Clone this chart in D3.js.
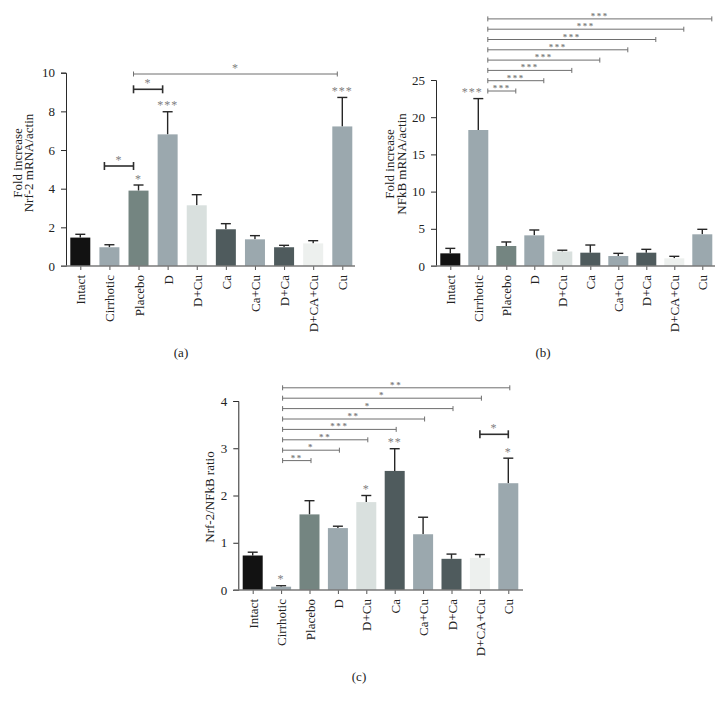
<!DOCTYPE html>
<html><head><meta charset="utf-8">
<script src="https://cdn.jsdelivr.net/npm/d3@7"></script>
<style>
body{margin:0;background:#fff;}
svg{display:block;font-family:"Liberation Serif","DejaVu Serif",serif;}
text{-webkit-font-smoothing:antialiased;}
</style></head>
<body><svg id="chart" width="725" height="703"></svg>
<script>
// ---------- DATA ----------
const categories = ["Intact","Cirrhotic","Placebo","D","D+Cu","Ca","Ca+Cu","D+Ca","D+CA+Cu","Cu"];
const barColors = ["#121212","#9ba8ae","#748581","#9ba8ae","#d9e0de","#4f5b5d","#9ba8ae","#4f5b5d","#edf0ee","#9ba8ae"];

const nrf2Means = [1.47,0.97,3.90,6.81,3.14,1.90,1.38,0.97,1.17,7.22];
const nrf2Errors = [0.17,0.13,0.29,1.17,0.55,0.29,0.19,0.10,0.14,1.50];
const nrf2Ticks = [0,2,4,6,8,10];
const nrf2BarStars = [{cat:"Placebo",label:"*"},{cat:"D",label:"***"},{cat:"Cu",label:"***"}];
const nrf2Brackets = [
  {from:"Cirrhotic",to:"Placebo",label:"*",kind:"bold"},
  {from:"Placebo",to:"D",label:"*",kind:"bold"},
  {from:"Placebo",to:"Cu",label:"*",kind:"thin"}
];

const nfkbMeans = [1.70,18.28,2.69,4.12,1.95,1.79,1.34,1.79,1.03,4.26];
const nfkbErrors = [0.67,4.22,0.54,0.72,0.17,1.03,0.36,0.45,0.27,0.67];
const nfkbTicks = [0,5,10,15,20,25];
const nfkbBarStars = [{cat:"Cirrhotic",label:"***"}];
const nfkbBrackets = [
  {from:"Cirrhotic",to:"Placebo",label:"***",kind:"thin"},
  {from:"Cirrhotic",to:"D",label:"***",kind:"thin"},
  {from:"Cirrhotic",to:"D+Cu",label:"***",kind:"thin"},
  {from:"Cirrhotic",to:"Ca",label:"***",kind:"thin"},
  {from:"Cirrhotic",to:"Ca+Cu",label:"***",kind:"thin"},
  {from:"Cirrhotic",to:"D+Ca",label:"***",kind:"thin"},
  {from:"Cirrhotic",to:"D+CA+Cu",label:"***",kind:"thin"},
  {from:"Cirrhotic",to:"Cu",label:"***",kind:"thin"}
];

const ratioMeans = [0.73,0.07,1.60,1.31,1.86,2.52,1.18,0.66,0.68,2.26];
const ratioErrors = [0.07,0.02,0.29,0.04,0.14,0.47,0.36,0.10,0.07,0.53];
const ratioTicks = [0,1,2,3,4];
const ratioBarStars = [{cat:"Cirrhotic",label:"*"},{cat:"D+Cu",label:"*"},{cat:"Ca",label:"**"},{cat:"Cu",label:"*"}];
const ratioBrackets = [
  {from:"Cirrhotic",to:"Placebo",label:"**",kind:"thin"},
  {from:"Cirrhotic",to:"D",label:"*",kind:"thin"},
  {from:"Cirrhotic",to:"D+Cu",label:"**",kind:"thin"},
  {from:"Cirrhotic",to:"Ca",label:"***",kind:"thin"},
  {from:"Cirrhotic",to:"Ca+Cu",label:"**",kind:"thin"},
  {from:"Cirrhotic",to:"D+Ca",label:"*",kind:"thin"},
  {from:"Cirrhotic",to:"D+CA+Cu",label:"*",kind:"thin"},
  {from:"Cirrhotic",to:"Cu",label:"**",kind:"thin"},
  {from:"D+CA+Cu",to:"Cu",label:"*",kind:"bold"}
];

// ---------- LAYOUT ----------
const panels = [
  {means:nrf2Means, errs:nrf2Errors, ticks:nrf2Ticks, domain:[0,10],
   centers:[80.3,342.3], yRange:[266,72.7], axisX:66, axisEnd:355,
   titles:["Fold increase","Nrf-2 mRNA/actin"], titleX:[21.5,33], titleY:163,
   caption:"(a)", capX:181, capY:357, stacked:false,
   barStars:nrf2BarStars, brackets:nrf2Brackets, bracketY:[166,89.3,74], bracketDx:-5},
  {means:nfkbMeans, errs:nfkbErrors, ticks:nfkbTicks, domain:[0,25],
   centers:[450.3,702.3], yRange:[266,80], axisX:436, axisEnd:715,
   titles:["Fold increase","NFkB mRNA/actin"], titleX:[394,405.5], titleY:164,
   caption:"(b)", capX:543, capY:357, stacked:true,
   barStars:nfkbBarStars, starDx:-6, brackets:nfkbBrackets,
   bracketY:[91,80.7,70.4,60.1,49.8,39.5,29.2,18.9], bracketDx:9.5},
  {means:ratioMeans, errs:ratioErrors, ticks:ratioTicks, domain:[0,4],
   centers:[252.7,508.3], yRange:[590,401], axisX:238.3, axisEnd:523,
   titles:["Nrf-2/NFkB ratio"], titleX:[213.5], titleY:497,
   caption:"(c)", capX:359, capY:681, stacked:true,
   barStars:ratioBarStars, brackets:ratioBrackets,
   bracketY:[460.6,450.2,439.8,429.4,419,408.6,398.2,387.8,434.3], bracketDx:1.5}
];

const svg = d3.select("#chart");
const BAR_W = 20;

// small = stacked significance labels (tight spacing), large = free-standing labels
function stars(g, x, yCenter, label, small){
  const size = small ? 9 : 12;
  g.append("text").attr("x",x).attr("y",yCenter+0.5*size)
    .attr("text-anchor","middle").attr("font-size",size)
    .attr("font-weight",small?"bold":"normal")
    .attr("fill","#808080").attr("letter-spacing",small?1.6:1).text(label);
}

panels.forEach(p=>{
  const g = svg.append("g");
  const x = d3.scalePoint().domain(categories).range(p.centers);
  const y = d3.scaleLinear().domain(p.domain).range(p.yRange);
  const rows = categories.map((c,i)=>({c, m:p.means[i], e:p.errs[i], col:barColors[i]}));

  // error bars (upper only)
  const eb = g.append("g").attr("stroke","#262626").attr("stroke-width",1.4);
  rows.forEach(r=>{
    eb.append("line").attr("x1",x(r.c)).attr("x2",x(r.c)).attr("y1",y(r.m)).attr("y2",y(r.m+r.e));
    eb.append("line").attr("x1",x(r.c)-5).attr("x2",x(r.c)+5).attr("y1",y(r.m+r.e)).attr("y2",y(r.m+r.e));
  });
  // bars
  g.append("g").selectAll("rect").data(rows).join("rect")
    .attr("x",d=>x(d.c)-BAR_W/2).attr("width",BAR_W)
    .attr("y",d=>y(d.m)).attr("height",d=>y(0)-y(d.m))
    .attr("fill",d=>d.col);

  // y axis
  const ya = g.append("g").attr("transform",`translate(${p.axisX},0)`)
    .call(d3.axisLeft(y).tickValues(p.ticks).tickFormat(d3.format("d"))
      .tickSize(5).tickSizeOuter(5).tickPadding(6));
  ya.select(".domain").attr("stroke","#2a2a2a");
  ya.selectAll(".tick line").attr("stroke","#2a2a2a");
  ya.selectAll("text").attr("font-size",13).attr("font-family","Liberation Serif").attr("fill","#222");

  // x axis
  const xa = g.append("g").attr("transform",`translate(0,${y(0)})`)
    .call(d3.axisBottom(x).tickSize(4).tickSizeOuter(0));
  xa.select(".domain").remove();
  xa.append("line").attr("x1",p.axisX-5).attr("x2",p.axisEnd).attr("y1",0).attr("y2",0)
    .attr("stroke","#7a7a7a").attr("stroke-width",1.5);
  xa.selectAll(".tick line").attr("stroke","#555");
  xa.selectAll(".tick text").attr("transform","rotate(-90)").attr("x",-9).attr("y",0)
    .attr("dy","0.35em").style("text-anchor","end")
    .attr("font-size",13).attr("font-family","Liberation Serif").attr("fill","#222");

  // axis titles
  p.titles.forEach((t,i)=>{
    g.append("text").attr("transform",`translate(${p.titleX[i]},${p.titleY}) rotate(-90)`)
      .attr("text-anchor","middle").attr("font-size",13).attr("fill","#222").text(t);
  });
  // caption
  g.append("text").attr("x",p.capX).attr("y",p.capY).attr("text-anchor","middle")
    .attr("font-size",13).attr("fill","#222").text(p.caption);

  // bar stars
  p.barStars.forEach(s=>{
    const i = categories.indexOf(s.cat);
    stars(g, x(s.cat)+(p.starDx||0), y(p.means[i]+p.errs[i])-8.5, s.label, false);
  });
  // brackets
  p.brackets.forEach((b,k)=>{
    const yy = p.bracketY[k];
    const bold = b.kind==="bold";
    const dx = bold ? (p.bracketDx<0?p.bracketDx:0) : p.bracketDx;
    const x1 = x(b.from)+dx, x2 = x(b.to)+dx;
    const col = bold ? "#2e2e2e" : "#6e6e6e";
    const sw = bold ? 1.6 : 1;
    const h = bold ? 4 : 2.5;
    g.append("line").attr("x1",x1).attr("x2",x2).attr("y1",yy).attr("y2",yy).attr("stroke",col).attr("stroke-width",sw);
    [x1,x2].forEach(xx=>g.append("line").attr("x1",xx).attr("x2",xx).attr("y1",yy-h).attr("y2",yy+h).attr("stroke",col).attr("stroke-width",sw));
    const small = p.stacked && !bold;
    stars(g, (x1+x2)/2, yy - (small ? 4.5 : 8.5), b.label, small);
  });
});
</script></body></html>
